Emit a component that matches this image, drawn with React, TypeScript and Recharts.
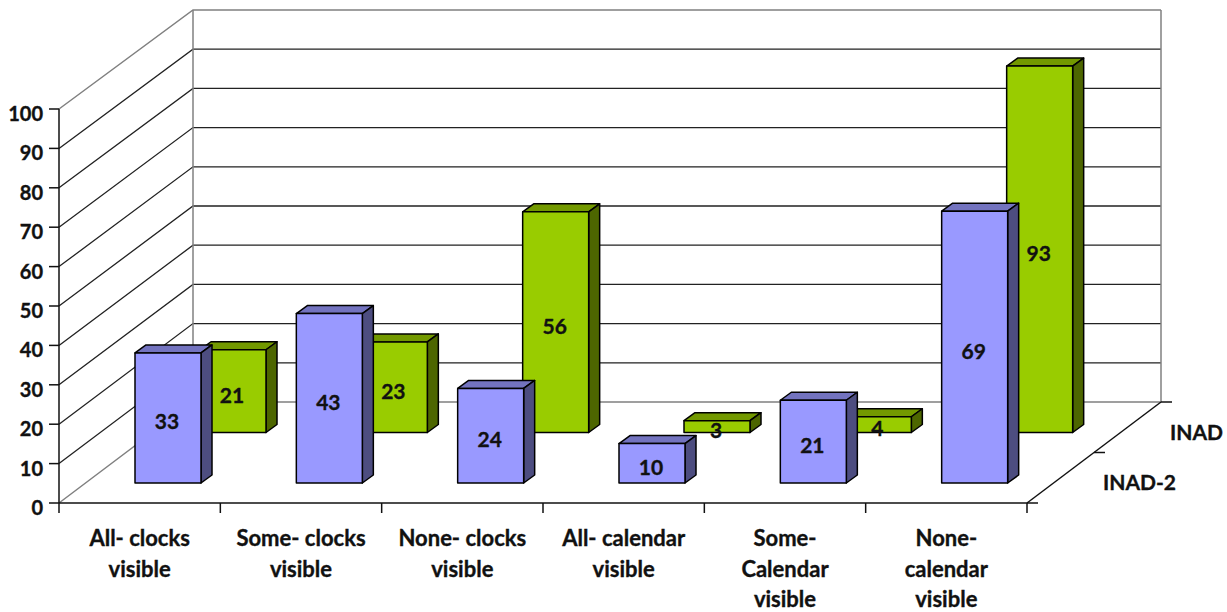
import { Bar, BarChart, CartesianGrid, XAxis, YAxis } from "recharts";

const categories = [
  "All- clocks\nvisible",
  "Some- clocks\nvisible",
  "None- clocks\nvisible",
  "All- calendar\nvisible",
  "Some-\nCalendar\nvisible",
  "None-\ncalendar\nvisible",
];
const inad2 = [33, 43, 24, 10, 21, 69];
const inad = [21, 23, 56, 3, 4, 93];
const yTicks = [0, 10, 20, 30, 40, 50, 60, 70, 80, 90, 100];

const data = categories.map((name, i) => ({ name, inad2: inad2[i], inad: inad[i] }));

const FONT = "Lato, sans-serif";
const W = 1227;
const H = 612;
const LEFT = 59;
const TOP = 109;
const BOTTOM = 503;
const RIGHT = 1027;
const BAND = (RIGHT - LEFT) / categories.length;
// how far the wall sits behind the front plane
const DEPTH_X = 134;
const DEPTH_Y = 101;
const GREY = "#808080";
const INK = "#111";
const BOLD = { fill: INK, fontFamily: FONT, fontWeight: 700, stroke: INK, strokeWidth: 0.35 };

function Bar3D(props: any) {
  const { x, y, width, height, value, dx, dy, front, side, top } = props;
  const l = x + dx;
  const t = y + dy;
  const r = l + width;
  const b = t + height;
  const ox = 11;
  const oy = 8;
  return (
    <g stroke="#000" strokeWidth={1.5} strokeLinejoin="round">
      <polygon points={`${l},${t} ${l + ox},${t - oy} ${r + ox},${t - oy} ${r},${t}`} fill={top} />
      <polygon points={`${r},${t} ${r + ox},${t - oy} ${r + ox},${b - oy} ${r},${b}`} fill={side} />
      <rect x={l} y={t} width={width} height={height} fill={front} />
      <text
        {...BOLD}
        x={l + width / 2 - 1}
        y={t + height / 2 + 3}
        textAnchor="middle"
        dominantBaseline="central"
        fontSize={21}
      >
        {value}
      </text>
    </g>
  );
}

function CategoryTick({ x, payload, index }: any) {
  const lines = String(payload.value).split("\n");
  return (
    <g>
      <line x1={x - BAND / 2} x2={x - BAND / 2} y1={BOTTOM} y2={BOTTOM + 10} stroke={INK} strokeWidth={1.5} />
      {index === categories.length - 1 && (
        <line x1={x + BAND / 2} x2={x + BAND / 2} y1={BOTTOM} y2={BOTTOM + 10} stroke={INK} strokeWidth={1.5} />
      )}
      {lines.map((line, i) => (
        <text key={i} {...BOLD} x={x} y={546 + i * 30.5} textAnchor="middle" fontSize={22}>
          {line}
        </text>
      ))}
    </g>
  );
}

function ValueTick({ x, y, payload }: any) {
  return (
    <text {...BOLD} x={x - 4} y={y + 12} textAnchor="end" fontSize={20}>
      {payload.value}
    </text>
  );
}

// each horizontal grid line runs up the side wall and then along the back wall
function WallLine({ x1, x2, y1, index }: any) {
  const edge = index === 0 || index === yTicks.length - 1;
  const backY = y1 - DEPTH_Y + (BOTTOM - y1) / 197;
  return (
    <g fill="none" stroke={edge ? GREY : "#222"} strokeWidth={edge ? 1.5 : 1.3}>
      <polyline points={`${x1},${y1} ${x1 + DEPTH_X},${backY} ${x2 + DEPTH_X},${backY}`} />
    </g>
  );
}

function Frame() {
  const bl = LEFT + DEPTH_X;
  const br = RIGHT + DEPTH_X;
  const floorY = BOTTOM - DEPTH_Y;
  const midX = RIGHT + DEPTH_X / 2;
  const midY = BOTTOM - DEPTH_Y / 2;
  return (
    <g>
      <line x1={bl} x2={bl} y1={10} y2={floorY} stroke={GREY} strokeWidth={1.5} />
      <line x1={br} x2={br} y1={10} y2={floorY} stroke={GREY} strokeWidth={1.5} />
      <g stroke={INK} strokeWidth={1.5}>
        <line x1={RIGHT} y1={BOTTOM} x2={br} y2={floorY} />
        <line x1={RIGHT} y1={BOTTOM} x2={RIGHT + 11} y2={BOTTOM} />
        <line x1={midX} y1={midY} x2={midX + 11} y2={midY} />
        <line x1={br} y1={floorY} x2={br + 11} y2={floorY} />
      </g>
      <g {...BOLD} fontSize={21}>
        <text x={1103} y={490}>INAD-2</text>
        <text x={1170} y={440}>INAD</text>
      </g>
    </g>
  );
}

export default function App() {
  return (
    <div style={{ position: "absolute", left: 0, top: 0, width: W, height: H, background: "#fff" }}>
      <BarChart
        width={W}
        height={H}
        data={data}
        barSize={66}
        margin={{ top: TOP, right: W - RIGHT, bottom: 0, left: 0 }}
      >
        <CartesianGrid xAxisId="front" vertical={false} horizontal={(p: any) => <WallLine key={p.index} {...p} />} />
        <Frame />
        <XAxis
          xAxisId="front"
          dataKey="name"
          height={H - BOTTOM}
          interval={0}
          axisLine={{ stroke: INK, strokeWidth: 1.5 }}
          tickLine={false}
          tick={<CategoryTick />}
        />
        <XAxis xAxisId="back" dataKey="name" height={0} hide />
        <YAxis
          width={LEFT}
          domain={[0, 100]}
          ticks={yTicks}
          interval={0}
          axisLine={{ stroke: INK, strokeWidth: 1.5 }}
          tickLine={{ stroke: INK, strokeWidth: 1.5 }}
          tickSize={10}
          tick={<ValueTick />}
        />
        <Bar
          xAxisId="back"
          dataKey="inad"
          isAnimationActive={false}
          shape={(p: any) => <Bar3D {...p} dx={93} dy={-70.5} front="#99CC00" side="#4D6600" top="#739900" />}
        />
        <Bar
          xAxisId="front"
          dataKey="inad2"
          isAnimationActive={false}
          shape={(p: any) => <Bar3D {...p} dx={28} dy={-20} front="#9999FF" side="#4D4D80" top="#7373BF" />}
        />
      </BarChart>
    </div>
  );
}
